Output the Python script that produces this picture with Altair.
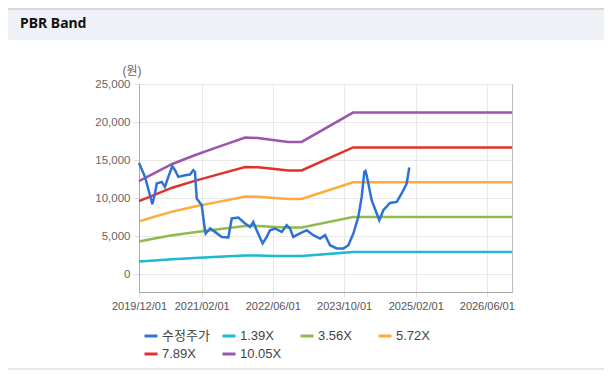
import altair as alt
import pandas as pd

# ---- data ----
series_names = ["수정주가", "1.39X", "3.56X", "5.72X", "7.89X", "10.05X"]
series_colors = ["#2f72d6", "#1cb9d0", "#8cbd4a", "#ffab3c", "#e0312b", "#9b55ad"]

band_dates = ["2019-12-01", "2020-03-15", "2020-07-15", "2020-12-15", "2021-05-25",
              "2021-11-25", "2022-02-20", "2022-06-15", "2022-09-15", "2022-12-15",
              "2023-12-01", "2026-11-20"]
band_139 = [1690, 1840, 2010, 2160, 2320, 2490, 2480, 2440, 2410, 2410, 2940, 2940]
band_356 = [4340, 4710, 5140, 5540, 5930, 6370, 6350, 6240, 6160, 6160, 7530, 7530]
band_572 = [6970, 7570, 8250, 8910, 9530, 10230, 10200, 10030, 9900, 9900, 12090, 12090]
band_789 = [9620, 10440, 11390, 12280, 13140, 14110, 14070, 13830, 13660, 13660, 16680, 16680]
band_1005 = [12250, 13290, 14500, 15650, 16740, 17970, 17920, 17620, 17400, 17400, 21250, 21250]

price_dates = ["2019-12-01", "2020-01-11", "2020-02-14", "2020-03-01", "2020-03-19",
               "2020-03-31", "2020-05-04", "2020-05-26", "2020-06-18", "2020-07-15",
               "2020-08-03", "2020-08-25", "2020-10-10", "2020-11-13", "2020-12-06",
               "2020-12-17", "2020-12-29", "2021-02-01", "2021-02-23", "2021-02-28",
               "2021-03-30", "2021-05-03", "2021-06-18", "2021-08-02", "2021-08-25",
               "2021-10-09", "2021-11-24", "2021-12-28", "2022-01-19", "2022-02-11",
               "2022-03-24", "2022-04-21", "2022-05-13", "2022-06-16", "2022-08-01",
               "2022-09-04", "2022-09-27", "2022-10-19", "2022-12-04", "2023-01-19",
               "2023-03-05", "2023-04-20", "2023-05-24", "2023-06-27", "2023-08-12",
               "2023-09-26", "2023-10-30", "2023-12-03", "2024-01-06", "2024-01-29",
               "2024-02-16", "2024-02-24", "2024-03-03", "2024-03-10", "2024-04-06",
               "2024-05-11", "2024-05-28", "2024-06-25", "2024-08-09", "2024-09-24",
               "2024-10-28", "2024-12-01", "2024-12-19"]
price_values = [14640, 12810, 10400, 9220, 10630,
                11940, 12150, 11490, 12810, 14210,
                13680, 12810, 13030, 13120, 13680,
                13460, 9970, 9090, 5810, 5380,
                6035, 5590, 4930, 4850, 7350,
                7480, 6690, 6245, 6900, 5810,
                4070, 4930, 5810, 6035, 5590,
                6470, 6035, 4930, 5380, 5810,
                5160, 4720, 5160, 3840, 3410,
                3410, 3840, 5380, 7560, 10180,
                13460, 13590, 13030, 12370, 9750,
                8000, 7120, 8440, 9390, 9530,
                10630, 11940, 14040]

y_ticks = [0, 5000, 10000, 15000, 20000, 25000]
x_ticks = [(2019, 12), (2021, 2), (2022, 6), (2023, 10), (2025, 2), (2026, 6)]

# ---- tables ----
bands_rows = []
for name, vals in zip(series_names[1:], [band_139, band_356, band_572, band_789, band_1005]):
    for d, v in zip(band_dates, vals):
        bands_rows.append({"date": d, "value": v, "series": name})
bands_df = pd.DataFrame(bands_rows)
price_df = pd.DataFrame({"date": price_dates, "value": price_values, "series": series_names[0]})

FONT = "Liberation Sans, Noto Sans CJK KR, sans-serif"

color_scale = alt.Scale(domain=series_names, range=series_colors)
legend = alt.Legend(orient="none", legendX=4, legendY=244, direction="horizontal",
                    columns=4, symbolType="stroke", symbolSize=169, symbolStrokeWidth=3,
                    labelFontSize=13, labelFont=FONT, labelColor="#444", gridAlign="all",
                    columnPadding=6, rowPadding=3, title=None, labelOffset=3, padding=0)

x_enc = alt.X("date:T",
              scale=alt.Scale(type="utc",
                              domain=[alt.DateTime(year=2019, month=12, date=1, utc=True),
                                      alt.DateTime(year=2026, month=11, date=20, utc=True)]),
              axis=alt.Axis(values=[alt.DateTime(year=y, month=m, date=1, utc=True) for y, m in x_ticks],
                            format="%Y/%m/%d", title=None, labelFont=FONT, labelFontSize=11,
                            labelColor="#555", domainColor="#aaa", tickColor="#ddd", tickSize=5,
                            labelPadding=3, gridColor="#e8e8e8", labelOverlap=False,
                            labelFlush=False))
y_enc = alt.Y("value:Q",
              scale=alt.Scale(domain=[-2300, 25000], nice=False, zero=False),
              axis=alt.Axis(values=y_ticks, format=",.0f", title=None, labelFont=FONT,
                            labelFontSize=11.5, labelColor="#666", domainColor="#aaa",
                            tickColor="#ddd", tickSize=5, labelPadding=4, gridColor="#e8e8e8",
                            labelFlush=False))

bands = alt.Chart(bands_df).mark_line(strokeWidth=2.5).encode(
    x=x_enc, y=y_enc,
    color=alt.Color("series:N", scale=color_scale, legend=legend, sort=series_names),
    detail="series:N")
price = alt.Chart(price_df).mark_line(strokeWidth=2.5).encode(
    x="date:T", y="value:Q",
    color=alt.Color("series:N", scale=color_scale, legend=legend, sort=series_names))

one = pd.DataFrame({"a": [0]})
header = alt.Chart(one).mark_rect(color="#eef2f7").encode(
    x=alt.value(-131), x2=alt.value(465), y=alt.value(-76), y2=alt.value(-44))
top_line = alt.Chart(one).mark_rule(color="#d0d0d0", strokeWidth=1.5).encode(
    x=alt.value(-131), x2=alt.value(465), y=alt.value(-75))
bottom_line = alt.Chart(one).mark_rule(color="#d0d0d0", strokeWidth=1).encode(
    x=alt.value(-131), x2=alt.value(465), y=alt.value(285))
title_text = alt.Chart(one).mark_text(align="left", baseline="alphabetic", fontWeight="bold",
                                      fontSize=14, font="Noto Sans", color="#111").encode(
    x=alt.value(-119), y=alt.value(-56), text=alt.value("PBR Band"))
unit_text = alt.Chart(one).mark_text(align="center", baseline="middle", fontSize=12,
                                     font=FONT, color="#666").encode(
    x=alt.value(-7), y=alt.value(-13), text=alt.value("(원)"))

chart = alt.layer(header, top_line, bottom_line, title_text, unit_text, bands, price).properties(
    width=373, height=208,
    autosize=alt.AutoSizeParams(type="none"),
    padding={"left": 131, "top": 76, "right": 92, "bottom": 87},
    background="#ffffff",
).configure_view(stroke="#bbb", strokeWidth=1)

chart.save("out.html", embed_options={"renderer": "svg", "actions": False})
